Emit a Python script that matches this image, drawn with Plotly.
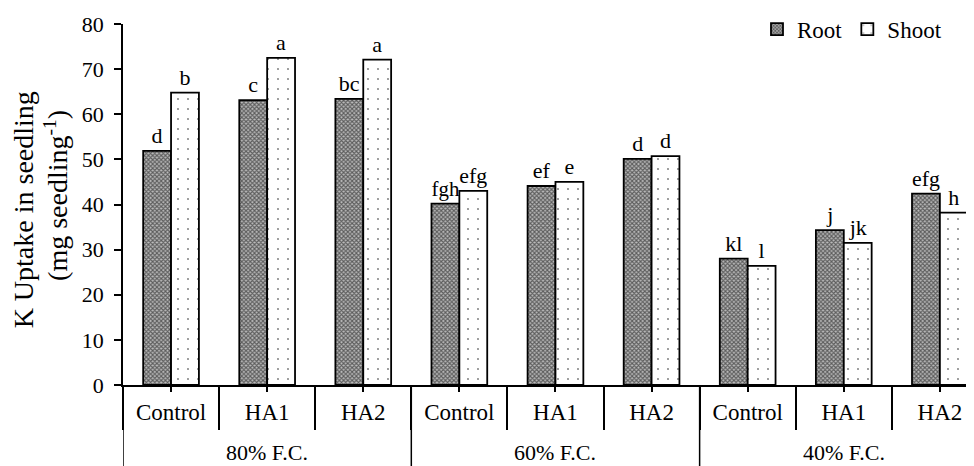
import plotly.graph_objects as go

levels = ["80% F.C.", "60% F.C.", "40% F.C."]
treatments = ["Control", "HA1", "HA2"]
root = [51.9, 63.1, 63.4, 40.2, 44.1, 50.1, 28.0, 34.3, 42.4]
shoot = [64.8, 72.5, 72.1, 43.0, 45.0, 50.7, 26.4, 31.5, 38.2]
root_letters = ["d", "c", "bc", "fgh", "ef", "d", "kl", "j", "efg"]
shoot_letters = ["b", "a", "a", "efg", "e", "d", "l", "jk", "h"]

FONT = "Liberation Serif, Times New Roman, serif"
keys = [f"{lv}|{tr}" for lv in levels for tr in treatments]
ticktext = [tr for lv in levels for tr in treatments]
n_in = len(treatments)

fig = go.Figure()
fig.add_trace(go.Bar(
    x=keys, y=root, name="Root", text=root_letters, textposition="outside",
    textfont=dict(size=22, color="black", family=FONT), cliponaxis=False,
    marker=dict(color="#aaaaaa", line=dict(color="black", width=1.8),
                pattern=dict(shape="x", size=3, solidity=0.6, fgcolor="#000000", bgcolor="#bbbbbb")),
))
fig.add_trace(go.Bar(
    x=keys, y=shoot, name="Shoot", text=shoot_letters, textposition="outside",
    textfont=dict(size=22, color="black", family=FONT), cliponaxis=False,
    marker=dict(color="white", line=dict(color="black", width=1.8),
                pattern=dict(shape=".", size=10, solidity=0.03, fgcolor="black", bgcolor="white")),
))
fig.add_trace(go.Scatter(x=[0], y=[0], xaxis="x2", yaxis="y", mode="markers",
                         marker=dict(opacity=0), showlegend=False, hoverinfo="skip"))

W, H = 966, 458
ML, MR, MT, MB = 115, 0, 16, 81
PH = H - MT - MB
rng = [-0.5, 8.355]
shapes = []
annotations = []
for g, lv in enumerate(levels):
    left = g * n_in - 0.5
    shapes.append(dict(type="line", xref="x", yref="paper", x0=left, x1=left, y0=0, y1=-MB / PH,
                       line=dict(color="black", width=1.5)))
    annotations.append(dict(text=lv, xref="x", yref="paper", x=g * n_in + (n_in - 1) / 2, y=-0.186,
                            xanchor="center", yanchor="middle", showarrow=False,
                            font=dict(size=22, family=FONT, color="black")))
shapes.append(dict(type="line", xref="x", yref="paper", x0=len(keys) - 0.5, x1=len(keys) - 0.5,
                   y0=0, y1=-MB / PH, line=dict(color="black", width=1.5)))
annotations.append(dict(text="K Uptake in seedling", textangle=-90,
                        xref="paper", yref="paper", x=-0.117, y=0.485, xanchor="center", yanchor="middle",
                        showarrow=False, font=dict(size=28, family=FONT, color="black")))
annotations.append(dict(text="(mg seedling<sup>-1</sup>)", textangle=-90,
                        xref="paper", yref="paper", x=-0.079, y=0.526, xanchor="center", yanchor="middle",
                        showarrow=False, font=dict(size=28, family=FONT, color="black")))

fig.update_layout(
    width=W, height=H,
    margin=dict(l=ML, r=MR, t=MT, b=MB, autoexpand=False),
    paper_bgcolor="white", plot_bgcolor="white",
    font=dict(family=FONT, size=22, color="black"),
    barmode="group", bargap=0.42, bargroupgap=0,
    showlegend=True,
    legend=dict(orientation="h", x=0.745, y=1.045, xanchor="left", yanchor="top",
                font=dict(size=23, family=FONT), bgcolor="rgba(0,0,0,0)",
                itemwidth=30, tracegroupgap=0),
    xaxis=dict(type="category", range=rng, showline=True, linecolor="black", linewidth=1.5,
               tickvals=keys, ticktext=ticktext, automargin=False, ticklabelstandoff=6,
               ticks="outside", tickson="boundaries", ticklen=43, tickwidth=1.5, tickcolor="black",
               tickfont=dict(size=23, family=FONT, color="black"), showgrid=False, zeroline=False),
    xaxis2=dict(overlaying="x", anchor="y", range=rng, tickvals=list(range(len(keys))),
                ticks="outside", ticklen=6, tickwidth=1.5, tickcolor="black",
                showticklabels=False, showgrid=False, zeroline=False, showline=False),
    yaxis=dict(range=[0, 80], dtick=10, showline=True, linecolor="black", linewidth=1.5,
               ticks="outside", ticklen=7, tickwidth=1.5, tickcolor="black", automargin=False,
               ticklabelstandoff=6,
               tickfont=dict(size=22, family=FONT), showgrid=False, zeroline=False),
    shapes=shapes,
    annotations=annotations,
)
fig.write_html("out.html")
